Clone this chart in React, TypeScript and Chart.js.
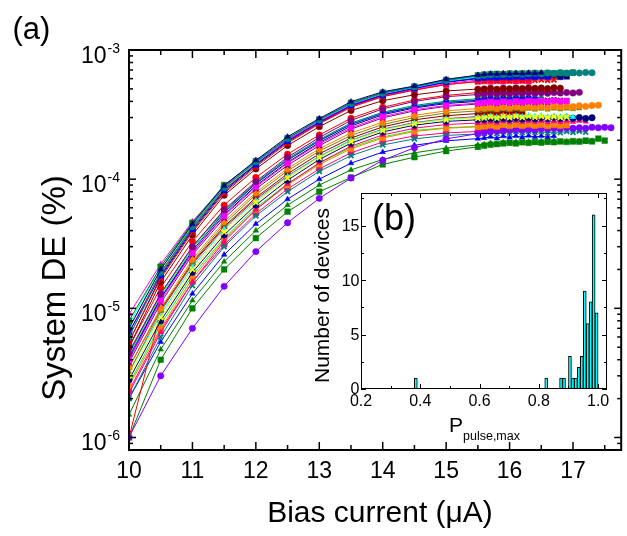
import React, { useEffect, useRef } from 'react';
import { Chart, registerables } from 'chart.js';

Chart.register(...registerables);

// ---------- (a) main panel data ----------
// Shared bias-current grid (µA): coarse 0.5 steps, then the dense sweep at 0.1 steps
const X_GRID = [
  10, 10.5, 11, 11.5, 12, 12.5, 13, 13.5, 14, 14.5, 15, 15.5,
  15.6, 15.7, 15.8, 15.9, 16.0, 16.1, 16.2, 16.3, 16.4, 16.5, 16.6, 16.7,
  16.8, 16.9, 17.0, 17.1, 17.2, 17.3, 17.4, 17.5, 17.6,
];
const DE_UNIT = 1e-6; // values below are System DE (%) in units of 1e-6

const d01 = [7, 20, 45, 89, 140, 213, 295, 398, 475, 526, 593, 640, 648, 655, 650, 660, 654, 662, 657, 665, 660, 668];
const d02 = [6, 19, 43, 86, 136, 206, 288, 385, 462, 518, 580, 630, 638, 644, 648, 645, 652, 656, 650, 658, 662, 656, 664, 660, 666, 662, 668, 664, 670, 666];
const d03 = [8, 21, 46, 90, 138, 208, 290, 390, 468, 522, 588, 636, 645, 650, 654, 650, 658, 654, 660, 656, 662, 658, 664, 660, 666, 662, 668];
const d04 = [6.5, 18, 41, 82, 130, 198, 276, 372, 448, 505, 565, 605, 612, 618, 614, 622, 616, 624, 620, 626, 622, 628, 624];
const d05 = [5.5, 17, 39, 78, 125, 190, 268, 360, 435, 490, 540, 570, 575, 580, 574, 582, 577, 585, 579, 586, 581, 588, 583, 586];
const d06 = [5, 16, 37, 75, 120, 182, 255, 340, 405, 450, 482, 498, 500, 505, 498, 506, 501, 508, 503, 510, 505, 508, 503, 510, 506];
const d07 = [9, 22, 47, 88, 135, 202, 280, 375, 448, 498, 550, 585, 590, 596, 590, 598, 593, 600, 595, 598];
const d08 = [7.5, 21, 45, 87, 134, 200, 282, 380, 455, 512, 572, 615, 622, 628, 622, 630, 625, 630];
const d09 = [7, 20, 44, 86, 133, 202, 284, 382, 458, 515, 575, 622, 630, 636, 630, 638, 634, 640, 635, 642, 638];
const d10 = [6, 18.5, 42, 84, 131, 199, 278, 375, 452, 508, 568, 612, 620, 626, 620, 628, 622, 630, 625, 632, 627];
const d11 = [6.5, 19, 42, 83, 130, 196, 272, 365, 438, 490, 540, 570, 575, 570, 578, 572, 580, 574, 578, 573];
const d12 = [5.5, 17.5, 40, 80, 128, 194, 272, 368, 445, 502, 562, 600, 610, 616, 610, 620, 614, 622, 616, 624, 618, 626, 620, 624, 619, 625];
const d13 = [4.5, 13, 30, 58, 96, 148, 210, 285, 350, 400, 435, 452, 455, 460, 456, 462, 458, 464, 460, 466, 461, 467, 462, 468, 464, 469, 465, 470];
const d14 = [4, 11.5, 27, 52, 87, 133, 188, 250, 305, 345, 372, 388, 392, 397, 391, 399, 394, 401, 396, 403, 398, 404, 399, 405, 400, 404];
const d15 = [3.8, 11, 26, 50, 84, 128, 182, 244, 298, 338, 366, 382, 386, 391, 385, 393, 388, 395, 390, 396, 391, 397, 393];
const d16 = [3.5, 10, 24, 47, 79, 121, 172, 228, 276, 312, 338, 352, 355, 359, 354, 361, 357, 363, 358, 364, 360, 366, 361, 367, 363, 368, 364, 370, 366, 372, 374];
const d17 = [3.2, 9.5, 23, 45, 76, 116, 165, 218, 265, 300, 325, 338, 340, 345, 340, 347, 342, 348, 344, 350, 345, 351, 346, 352, 347, 352, 348, 353];
const d18 = [4.2, 12, 28, 55, 92, 140, 198, 265, 322, 362, 392, 408, 412, 418, 411, 420, 414, 421, 416, 422, 417];
const d19 = [4.6, 13, 30, 57, 94, 144, 203, 272, 330, 372, 402, 420, 424, 429, 423, 431, 426, 432, 427, 434, 428, 433];
const d20 = [5, 14.5, 33, 63, 103, 156, 220, 296, 360, 410, 445, 468, 472, 477, 471, 479, 474, 481, 476, 482, 477, 483, 478];
const d21 = [4, 12, 27, 53, 89, 135, 192, 258, 315, 356, 385, 400, 404, 409, 403, 411, 406, 412, 407, 414, 408, 413, 407, 412, 408];
const d22 = [4.4, 12.5, 29, 56, 93, 142, 200, 268, 325, 366, 396, 412, 415, 420, 413, 421, 416, 422, 418];
const d23 = [3, 8.5, 20, 39, 66, 102, 147, 195, 238, 268, 288, 296, 298, 303, 297, 305, 300, 306, 301, 307, 302, 306, 300, 305, 301, 304];
const d24 = [3.2, 9, 21, 41, 68, 105, 150, 200, 242, 272, 292, 300, 302, 307, 301, 309, 304, 310, 305, 311, 306, 310, 305, 309, 304, 308, 303];
const d25 = [2.8, 8, 19, 37, 63, 98, 142, 190, 232, 262, 280, 288, 290, 294, 289, 296, 291, 297, 292, 298, 293, 299, 294, 300, 295, 301, 296, 300, 295, 299];
const d26 = [2.2, 6.5, 16, 33, 58, 92, 134, 180, 220, 248, 265, 272, 274, 279, 273, 281, 276, 282, 277, 283, 278, 282, 276, 281, 277, 282, 278, 283, 279];
const d27 = [2.5, 7, 17, 34, 58, 90, 130, 172, 208, 234, 248, 254, 256, 261, 255, 263, 258, 264, 259, 265, 260, 264, 258, 263, 259, 262];
const d28 = [1, 3, 7, 14.8, 27.5, 46, 71, 102, 140, 175, 205, 225, 230, 234, 236, 238, 240, 242, 240, 244, 242, 246, 244, 248, 246, 250, 248, 250, 248, 252, 250, 252, 250];
const d29 = [2, 6, 15, 30, 52, 80, 115, 152, 184, 205, 218, 224, 226, 231, 225, 233, 228, 234, 229, 235, 230, 234, 228, 233, 229, 234, 230, 235, 231];
const d30 = [1, 9.5, 22, 42, 70, 106, 150, 200, 244, 274, 294, 305, 308, 313, 307, 315, 310];
const d31 = [3.5, 9.8, 22.5, 43, 72, 110, 157, 208, 254, 288, 310, 322, 325, 329, 323, 331, 326, 332, 327];
const d32 = [1, 4, 10, 20, 35, 56, 80, 103, 130, 148, 165, 178, 182, 185, 187, 189, 191, 189, 193, 191, 194, 192, 195, 193, 196, 194, 197, 195, 199, 196, 206, 199];
const d33 = [2, 5.5, 13, 26, 45, 70, 100, 133, 162, 183, 198, 206, 208, 213, 207, 215, 210, 216, 211, 217, 212, 216, 211, 215];
const d34 = [1.5, 4.8, 11.5, 23, 40, 63, 90, 118, 142, 160, 174, 184, 186, 190, 187, 192, 189, 194, 190, 195, 191, 196, 192, 197, 193, 196, 192, 197, 194, 198];
const d35 = [2.3, 6.8, 16, 31, 54, 84, 120, 160, 194, 216, 228, 234, 236, 241, 235, 243, 238, 244, 239, 243, 238];
const d36 = [2.6, 7.5, 18, 35, 60, 92, 133, 176, 212, 238, 250, 256, 258, 263, 257, 265, 260, 266, 261, 265, 260, 264];

const DEVICES = [d01, d02, d03, d04, d05, d06, d07, d08, d09, d10, d11, d12, d13, d14, d15, d16, d17, d18,
  d19, d20, d21, d22, d23, d24, d25, d26, d27, d28, d29, d30, d31, d32, d33, d34, d35, d36];

const DEVICE_COLORS = [
  '#000080', '#008080', '#008000', '#0000FF', '#FF0000', '#800000', '#FF00FF', '#00FFFF', '#00FF00',
  '#808000', '#FF0080', '#000080', '#800080', '#FF00FF', '#800080', '#FF8000', '#808000', '#0000FF',
  '#008080', '#FF0000', '#000080', '#00FF00', '#FFFF00', '#00FFFF', '#000080', '#FF0080', '#FF8000',
  '#8000FF', '#008080', '#FF0000', '#800000', '#008000', '#0000FF', '#008000', '#FF0080', '#00FF00',
];
const DEVICE_MARKERS = [
  'triangle', 'circle', 'rect', 'rect', 'crossRot', 'circle', 'triangle', 'rect', 'circle',
  'crossRot', 'rect', 'rect', 'circle', 'rect', 'crossRot', 'circle', 'triangle', 'crossRot',
  'triangle', 'circle', 'crossRot', 'rect', 'crossRot', 'triangle', 'circle', 'triangle', 'rect',
  'circle', 'crossRot', 'triangle', 'rect', 'rect', 'triangle', 'triangle', 'circle', 'triangle',
];

const X_MIN = 10;
const X_MAX = 17.76;
const Y_MIN = 8e-7;
const Y_MAX = 1e-3;
const X_TICKS = [10, 10.5, 11, 11.5, 12, 12.5, 13, 13.5, 14, 14.5, 15, 15.5, 16, 16.5, 17, 17.5];
const X_LABELS = [10, 11, 12, 13, 14, 15, 16, 17];
const Y_EXPONENTS = [-6, -5, -4, -3];

// ---------- (b) inset histogram data ----------
const BIN_CENTERS = [0.385, 0.825, 0.875, 0.885, 0.905, 0.915, 0.925, 0.935, 0.945, 0.955, 0.965, 0.975, 0.985, 0.995];
const BIN_COUNTS = [1, 1, 1, 1, 3, 1, 1, 2, 3, 9, 6, 8, 16, 7];
const INSET_X_TICKS = [0.2, 0.3, 0.4, 0.5, 0.6, 0.7, 0.8, 0.9, 1.0];
const INSET_X_LABELS = ['0.2', '0.4', '0.6', '0.8', '1.0'];
const INSET_Y_TICKS = [0, 2.5, 5, 7.5, 10, 12.5, 15, 17.5];
const INSET_Y_LABELS = [0, 5, 10, 15];

const FONT = '"Liberation Sans", Arial, Helvetica, sans-serif';

function seg(ctx: CanvasRenderingContext2D, x1: number, y1: number, x2: number, y2: number) {
  ctx.beginPath();
  ctx.moveTo(x1, y1);
  ctx.lineTo(x2, y2);
  ctx.stroke();
}

const mainAxesPlugin = {
  id: 'mainAxes',
  afterDraw(chart: any) {
    const { ctx, chartArea: a } = chart;
    const xs = chart.scales.x;
    const ys = chart.scales.y;
    ctx.save();
    ctx.strokeStyle = '#000';
    ctx.fillStyle = '#000';
    ctx.lineWidth = 2;
    ctx.strokeRect(a.left, a.top, a.right - a.left, a.bottom - a.top);
    ctx.lineWidth = 1.5;
    // x ticks (inward, top and bottom)
    X_TICKS.forEach((t) => {
      const px = xs.getPixelForValue(t);
      const len = Number.isInteger(t) ? 8 : 5;
      seg(ctx, px, a.bottom, px, a.bottom - len);
      seg(ctx, px, a.top, px, a.top + len);
    });
    // y ticks (inward, left and right)
    for (let e = -7; e <= -3; e++) {
      for (let m = 1; m <= 9; m++) {
        const v = m * Math.pow(10, e);
        if (v < Y_MIN * 1.01 || v > Y_MAX * 1.001) continue;
        const py = ys.getPixelForValue(v);
        const len = m === 1 ? 7 : 4;
        seg(ctx, a.left, py, a.left + len, py);
        seg(ctx, a.right, py, a.right - len, py);
      }
    }
    // x labels
    ctx.font = `23px ${FONT}`;
    ctx.textAlign = 'center';
    ctx.textBaseline = 'alphabetic';
    X_LABELS.forEach((v) => {
      ctx.fillText(String(v), xs.getPixelForValue(v), 478);
    });
    // y labels 10^n
    Y_EXPONENTS.forEach((e) => {
      const py = ys.getPixelForValue(Math.pow(10, e));
      ctx.font = `23px ${FONT}`;
      ctx.textAlign = 'right';
      ctx.fillText('10', 106.5, py + 13);
      ctx.font = `14px ${FONT}`;
      ctx.textAlign = 'left';
      ctx.fillText(String(e), 107.5, py + 3);
    });
    // axis titles
    ctx.font = `30px ${FONT}`;
    ctx.textAlign = 'center';
    ctx.fillText('Bias current (\u03BCA)', 380, 522);
    ctx.save();
    ctx.translate(65, 288);
    ctx.rotate(-Math.PI / 2);
    ctx.font = `33px ${FONT}`;
    ctx.textAlign = 'center';
    ctx.fillText('System DE (%)', 0, 0);
    ctx.restore();
    // panel label
    ctx.font = `31px ${FONT}`;
    ctx.textAlign = 'left';
    ctx.fillText('(a)', 12.5, 38.5);
    ctx.restore();
  },
};

const INSET_LEFT = 290;
const INSET_TOP = 170;

const insetAxesPlugin = {
  id: 'insetAxes',
  afterDraw(chart: any) {
    const { ctx, chartArea: a } = chart;
    const xs = chart.scales.x;
    const ys = chart.scales.y;
    ctx.save();
    ctx.strokeStyle = '#000';
    ctx.fillStyle = '#000';
    ctx.lineWidth = 1;
    ctx.strokeRect(a.left + 0.5, a.top + 0.5, a.right - a.left - 1, a.bottom - a.top - 1);
    INSET_X_TICKS.forEach((t, i) => {
      const px = Math.round(xs.getPixelForValue(t)) + 0.5;
      const len = i % 2 === 0 ? 5 : 3;
      seg(ctx, px, a.bottom, px, a.bottom - len);
      seg(ctx, px, a.top, px, a.top + len);
    });
    INSET_Y_TICKS.forEach((t) => {
      const py = Math.round(ys.getPixelForValue(t)) + 0.5;
      const len = t % 5 === 0 ? 5 : 3;
      seg(ctx, a.left, py, a.left + len, py);
      seg(ctx, a.right, py, a.right - len, py);
    });
    ctx.font = `16px ${FONT}`;
    ctx.textAlign = 'center';
    ctx.textBaseline = 'alphabetic';
    INSET_X_LABELS.forEach((s) => {
      ctx.fillText(s, xs.getPixelForValue(parseFloat(s)), 406 - INSET_TOP);
    });
    ctx.textAlign = 'right';
    ctx.textBaseline = 'middle';
    INSET_Y_LABELS.forEach((v) => {
      ctx.fillText(String(v), 359.5 - INSET_LEFT, ys.getPixelForValue(v) + 1);
    });
    ctx.textBaseline = 'alphabetic';
    // y title
    ctx.save();
    ctx.translate(329 - INSET_LEFT, 295.5 - INSET_TOP);
    ctx.rotate(-Math.PI / 2);
    ctx.font = `21px ${FONT}`;
    ctx.textAlign = 'center';
    ctx.fillText('Number of devices', 0, 0);
    ctx.restore();
    // x title P_pulse,max
    ctx.textAlign = 'left';
    ctx.font = `21px ${FONT}`;
    ctx.fillText('P', 449 - INSET_LEFT, 432 - INSET_TOP);
    ctx.font = `12.5px ${FONT}`;
    ctx.fillText('pulse,max', 463 - INSET_LEFT, 440 - INSET_TOP);
    // panel label
    ctx.font = `36px ${FONT}`;
    ctx.fillText('(b)', 372 - INSET_LEFT, 230 - INSET_TOP);
    ctx.restore();
  },
};

export default function App() {
  const mainRef = useRef<HTMLCanvasElement>(null);
  const insetRef = useRef<HTMLCanvasElement>(null);

  useEffect(() => {
    const datasets = DEVICES.map((vals, i) => {
      const marker = DEVICE_MARKERS[i];
      const color = DEVICE_COLORS[i];
      return {
        data: vals.map((v, k) => ({ x: X_GRID[k], y: v * DE_UNIT })),
        borderColor: color,
        backgroundColor: color,
        borderWidth: 1,
        pointStyle: marker,
        pointRadius: marker === 'rect' ? 4 : marker === 'crossRot' ? 3.5 : 3.2,
        pointBackgroundColor: color,
        pointBorderColor: color,
        pointBorderWidth: marker === 'crossRot' ? 1.8 : 0.5,
        tension: 0,
      };
    });

    const main = new Chart(mainRef.current!, {
      type: 'line',
      data: { datasets: datasets as any },
      options: {
        animation: false,
        responsive: false,
        devicePixelRatio: 1,
        layout: { padding: { left: 129, top: 50, right: 1, bottom: 86 } },
        plugins: { legend: { display: false }, tooltip: { enabled: false } },
        scales: {
          x: { type: 'linear', min: X_MIN, max: X_MAX, display: false },
          y: { type: 'logarithmic', min: Y_MIN, max: Y_MAX, display: false },
        },
      },
      plugins: [mainAxesPlugin],
    });

    const inset = new Chart(insetRef.current!, {
      type: 'bar',
      data: {
        datasets: [
          {
            data: BIN_CENTERS.map((c, i) => ({ x: c, y: BIN_COUNTS[i] })) as any,
            backgroundColor: '#00FFFF',
            borderColor: '#000000',
            borderWidth: 1,
            barThickness: 2.95,
          },
        ],
      },
      options: {
        animation: false,
        responsive: false,
        devicePixelRatio: 1,
        layout: { padding: { left: 71, top: 23, right: 20, bottom: 81 } },
        plugins: { legend: { display: false }, tooltip: { enabled: false } },
        scales: {
          x: { type: 'linear', min: 0.2, max: 1.03, display: false, offset: false },
          y: { type: 'linear', min: 0, max: 18, display: false },
        },
      },
      plugins: [insetAxesPlugin],
    });

    return () => {
      main.destroy();
      inset.destroy();
    };
  }, []);

  return (
    <div style={{ position: 'fixed', left: 0, top: 0, width: 627, height: 536, background: '#ffffff' }}>
      <canvas ref={mainRef} width={627} height={536} style={{ position: 'absolute', left: 0, top: 0 }} />
      <canvas
        ref={insetRef}
        width={337}
        height={300}
        style={{ position: 'absolute', left: INSET_LEFT, top: INSET_TOP }}
      />
    </div>
  );
}
